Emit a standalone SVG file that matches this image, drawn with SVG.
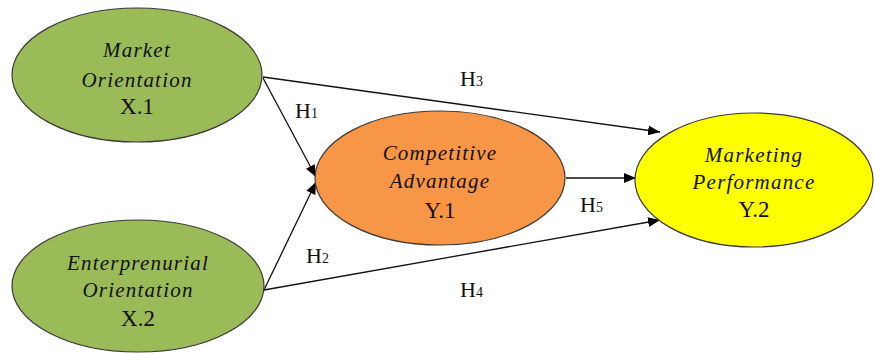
<svg xmlns="http://www.w3.org/2000/svg" width="874" height="353" viewBox="0 0 874 353">
<defs>
<marker id="arr" viewBox="0 0 12 10" refX="12" refY="5" markerWidth="12" markerHeight="10" markerUnits="userSpaceOnUse" orient="auto">
<path d="M0,0 L12,5 L0,10 z" fill="#000"/>
</marker>
<style>
.node{stroke:#3a3a3a;stroke-width:1.2}
.it{font-family:"Liberation Serif",serif;font-style:italic;font-size:21px;fill:#111;text-anchor:middle;letter-spacing:1.2px}
.id{font-family:"Liberation Serif",serif;font-size:23px;fill:#111;text-anchor:middle}
.h{font-family:"Liberation Serif",serif;font-size:22px;fill:#111}
.sub{font-size:14px}
.edge{stroke:#111;stroke-width:1.3;fill:none;marker-end:url(#arr)}
</style>
</defs>
<rect width="874" height="353" fill="#fff"/>
<g id="connectors">
<line class="edge" x1="263" y1="77" x2="660" y2="132"/>
<line class="edge" x1="263" y1="78" x2="316" y2="177"/>
<line class="edge" x1="264" y1="290" x2="316" y2="182"/>
<line class="edge" x1="264" y1="290" x2="660" y2="220"/>
<line class="edge" x1="566" y1="178" x2="636" y2="178"/>
<text class="h" x="460" y="86">H<tspan class="sub">3</tspan></text>
<text class="h" x="295" y="118">H<tspan class="sub">1</tspan></text>
<text class="h" x="306" y="263">H<tspan class="sub">2</tspan></text>
<text class="h" x="460" y="297">H<tspan class="sub">4</tspan></text>
<text class="h" x="580" y="212">H<tspan class="sub">5</tspan></text>
</g>
<g id="market-orientation">
<ellipse class="node" cx="137" cy="75" rx="125" ry="67" fill="#9BBB59"/>
<text class="it" x="137" y="57">Market</text>
<text class="it" x="137" y="87">Orientation</text>
<text class="id" x="137" y="114">X.1</text>
</g>
<g id="entrepreneurial-orientation">
<ellipse class="node" cx="138" cy="286" rx="126" ry="66" fill="#9BBB59"/>
<text class="it" x="138" y="270">Enterprenurial</text>
<text class="it" x="138" y="297">Orientation</text>
<text class="id" x="138" y="326">X.2</text>
</g>
<g id="competitive-advantage">
<ellipse class="node" cx="440" cy="178" rx="125" ry="67" fill="#F79646"/>
<text class="it" x="440" y="160">Competitive</text>
<text class="it" x="440" y="188">Advantage</text>
<text class="id" x="440" y="218">Y.1</text>
</g>
<g id="marketing-performance">
<ellipse class="node" cx="754" cy="180" rx="119" ry="67" fill="#FFFF00"/>
<text class="it" x="754" y="162">Marketing</text>
<text class="it" x="754" y="189">Performance</text>
<text class="id" x="754" y="217">Y.2</text>
</g>
</svg>
